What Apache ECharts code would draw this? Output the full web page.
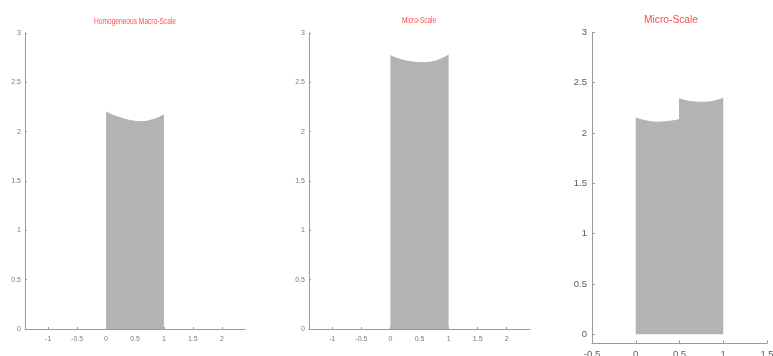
<!DOCTYPE html>
<html>
<head>
<meta charset="utf-8">
<script src="https://cdn.jsdelivr.net/npm/echarts@6/dist/echarts.min.js"></script>
<style>
  html, body { margin: 0; padding: 0; background: #fff; }
  #chart { width: 773px; height: 356px; }
</style>
</head>
<body>
<div id="chart"></div>
<script>
// Free-surface profiles of the column (x position, height)
const macroX = [0, 0.1, 0.2, 0.3, 0.4, 0.5, 0.6, 0.7, 0.8, 0.9, 1.0];
const macroTop = [2.20, 2.17, 2.15, 2.13, 2.115, 2.105, 2.10, 2.105, 2.12, 2.14, 2.17];

const microX = [0, 0.1, 0.2, 0.3, 0.4, 0.5, 0.6, 0.7, 0.8, 0.9, 1.0];
const microTop = [2.77, 2.745, 2.727, 2.713, 2.705, 2.70, 2.70, 2.705, 2.72, 2.745, 2.775];

const stepX = [0, 0.05, 0.1, 0.15, 0.2, 0.25, 0.3, 0.35, 0.4, 0.45, 0.5,
               0.5, 0.55, 0.6, 0.65, 0.7, 0.75, 0.8, 0.85, 0.9, 0.95, 1.0];
const stepTop = [2.15, 2.135, 2.125, 2.115, 2.11, 2.108, 2.11, 2.113, 2.118, 2.125, 2.135,
                 2.34, 2.325, 2.316, 2.31, 2.307, 2.306, 2.307, 2.31, 2.318, 2.33, 2.345];

const titles = ['Homogeneous Macro-Scale', 'Micro-Scale', 'Micro-Scale'];
const wideTicksX = [-1, -0.5, 0, 0.5, 1, 1.5, 2];
const ticksY = [0, 0.5, 1, 1.5, 2, 2.5, 3];

const fill = '#b3b3b3';
const narrow = "'Liberation Sans Narrow', 'Liberation Sans', Arial, sans-serif";
const regular = "'Liberation Sans', Arial, sans-serif";

function pairs(xs, ys) { return xs.map((x, i) => [x, ys[i]]); }

function xAxisFor(idx, min, max, ticks, small) {
  return {
    type: 'value', gridIndex: idx, min: min, max: max,
    axisLine: { onZero: false, lineStyle: { color: '#9a9a9a', width: 1 } },
    axisTick: { inside: true, length: small ? 2 : 3, customValues: ticks, lineStyle: { color: '#9a9a9a' } },
    axisLabel: {
      customValues: ticks, margin: small ? 7 : 6,
      fontSize: small ? 7 : 9.5, color: small ? '#7a7a7a' : '#5a5a5a',
      fontFamily: small ? narrow : regular,
      formatter: v => String(v)
    },
    splitLine: { show: false }
  };
}

function yAxisFor(idx, min, small) {
  return {
    type: 'value', gridIndex: idx, min: min, max: 3,
    axisLine: { show: true, onZero: false, lineStyle: { color: '#9a9a9a', width: 1 } },
    axisTick: { show: true, inside: true, length: small ? 2 : 3, customValues: ticksY, lineStyle: { color: '#9a9a9a' } },
    axisLabel: {
      customValues: ticksY, margin: small ? 4 : 5,
      fontSize: small ? 7 : 9.5, color: small ? '#7a7a7a' : '#5a5a5a',
      fontFamily: small ? narrow : regular,
      formatter: v => String(v)
    },
    splitLine: { show: false }
  };
}

function column(idx, data) {
  return {
    type: 'line', xAxisIndex: idx, yAxisIndex: idx,
    data: data, symbol: 'none', smooth: false, silent: true,
    lineStyle: { color: fill, width: 1 },
    areaStyle: { color: fill, opacity: 1 }
  };
}

function titleText(text, x, y, size, sx) {
  return {
    type: 'text', x: x, y: y, scaleX: sx, silent: true,
    style: {
      text: text, fill: '#ff4d4d', fontSize: size, fontFamily: regular,
      textAlign: 'center', textVerticalAlign: 'middle'
    }
  };
}

const chart = echarts.init(document.getElementById('chart'), null, { renderer: 'canvas' });
chart.setOption({
  animation: false,
  backgroundColor: '#ffffff',
  grid: [
    { left: 25, top: 33, width: 220, height: 296, outerBoundsMode: 'none', containLabel: false },
    { left: 309, top: 33, width: 221, height: 296, outerBoundsMode: 'none', containLabel: false },
    { left: 592, top: 32.4, width: 175, height: 311, outerBoundsMode: 'none', containLabel: false }
  ],
  xAxis: [
    xAxisFor(0, -1.4, 2.4, wideTicksX, true),
    xAxisFor(1, -1.4, 2.4, wideTicksX, true),
    xAxisFor(2, -0.5, 1.5, [-0.5, 0, 0.5, 1, 1.5], false)
  ],
  yAxis: [
    yAxisFor(0, 0, true),
    yAxisFor(1, 0, true),
    yAxisFor(2, -0.09, false)
  ],
  series: [
    column(0, pairs(macroX, macroTop)),
    column(1, pairs(microX, microTop)),
    column(2, pairs(stepX, stepTop))
  ],
  graphic: [
    titleText(titles[0], 135, 21.7, 9, 0.735),
    titleText(titles[1], 419, 21, 9, 0.72),
    titleText(titles[2], 671, 20, 11, 0.93)
  ]
});
</script>
</body>
</html>
